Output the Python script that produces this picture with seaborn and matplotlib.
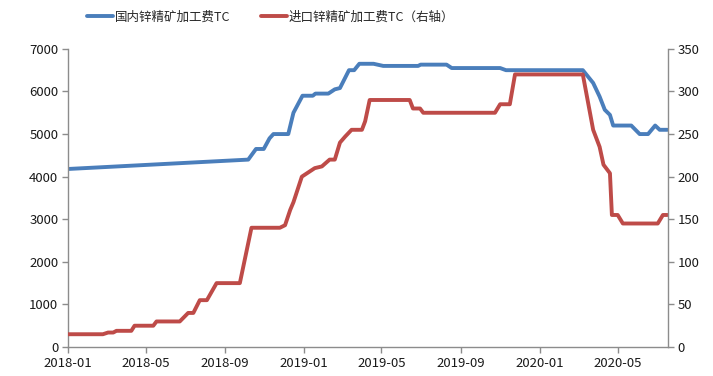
import matplotlib
matplotlib.use("Agg")
import matplotlib.pyplot as plt
import matplotlib.dates as mdates
import pandas as pd
import seaborn as sns

# Domestic zinc concentrate treatment charge (left axis, yuan/t)
dom_dates = ["2018-01-01", "2018-10-07", "2018-10-19", "2018-10-31", "2018-11-09",
             "2018-11-15", "2018-12-08", "2018-12-16", "2018-12-30", "2019-01-15",
             "2019-01-19", "2019-02-08", "2019-02-18", "2019-02-26", "2019-03-12",
             "2019-03-20", "2019-03-28", "2019-04-19", "2019-05-04", "2019-06-27",
             "2019-07-01", "2019-08-10", "2019-08-18", "2019-11-01", "2019-11-10",
             "2020-03-08", "2020-03-24", "2020-04-03", "2020-04-11", "2020-04-19",
             "2020-04-24", "2020-05-22", "2020-06-04", "2020-06-17", "2020-06-28",
             "2020-07-05", "2020-07-17"]
dom_values = [4180, 4400, 4650, 4650, 4900,
              5000, 5000, 5500, 5900, 5900,
              5950, 5950, 6050, 6080, 6500,
              6500, 6650, 6650, 6600, 6600,
              6630, 6630, 6550, 6550, 6500,
              6500, 6200, 5880, 5570, 5450,
              5200, 5200, 5000, 5000, 5200,
              5100, 5100]

# Imported zinc concentrate treatment charge (right axis, USD/t)
imp_dates = ["2018-01-01", "2018-02-24", "2018-03-04", "2018-03-12", "2018-03-17",
             "2018-04-09", "2018-04-14", "2018-05-13", "2018-05-18", "2018-06-23",
             "2018-07-06", "2018-07-14", "2018-07-24", "2018-08-04", "2018-08-19",
             "2018-09-24", "2018-10-12", "2018-11-25", "2018-12-03", "2018-12-11",
             "2018-12-16", "2018-12-29", "2019-01-08", "2019-01-18", "2019-01-29",
             "2019-02-10", "2019-02-18", "2019-02-26", "2019-03-06", "2019-03-16",
             "2019-04-01", "2019-04-06", "2019-04-13", "2019-06-14", "2019-06-19",
             "2019-06-30", "2019-07-05", "2019-10-24", "2019-11-01", "2019-11-16",
             "2019-11-24", "2020-03-08", "2020-03-24", "2020-04-03", "2020-04-09",
             "2020-04-19", "2020-04-22", "2020-05-01", "2020-05-09", "2020-07-02",
             "2020-07-10", "2020-07-17"]
imp_values = [15, 15, 17, 17, 19,
              19, 25, 25, 30, 30,
              40, 40, 55, 55, 75,
              75, 140, 140, 143, 161,
              170, 200, 205, 210, 212,
              220, 220, 240, 247, 255,
              255, 265, 290, 290, 280,
              280, 275, 275, 285, 285,
              320, 320, 255, 235, 214,
              204, 155, 155, 145, 145,
              155, 155]

dom_label = "国内锌精矿加工费TC"
imp_label = "进口锌精矿加工费TC（右轴）"
x_ticks = ["2018-01", "2018-05", "2018-09", "2019-01", "2019-05",
           "2019-09", "2020-01", "2020-05"]
left_ticks = [0, 1000, 2000, 3000, 4000, 5000, 6000, 7000]
right_ticks = [0, 50, 100, 150, 200, 250, 300, 350]

sns.set_style("white")
plt.rcParams["font.family"] = ["Noto Sans CJK SC", "DejaVu Sans"]

dom = pd.DataFrame({"date": pd.to_datetime(dom_dates), "value": dom_values})
imp = pd.DataFrame({"date": pd.to_datetime(imp_dates), "value": imp_values})

blue = "#4a7ebb"
red = "#be4b48"
axis_grey = "#8c8c8c"

fig = plt.figure(figsize=(7.13, 3.76), dpi=100)
ax = fig.add_axes([0.0954, 0.0771, 0.8416, 0.7929])
ax2 = ax.twinx()

sns.lineplot(data=dom, x="date", y="value", ax=ax, color=blue, linewidth=2.8,
             label=dom_label, legend=False)
sns.lineplot(data=imp, x="date", y="value", ax=ax2, color=red, linewidth=2.8,
             label=imp_label, legend=False)

ax.set_xlim(pd.Timestamp("2018-01-01"), pd.Timestamp("2020-07-18"))
ax.set_ylim(0, 7000)
ax2.set_ylim(0, 350)
ax.set_xticks(pd.to_datetime([t + "-01" for t in x_ticks]))
ax.xaxis.set_major_formatter(mdates.DateFormatter("%Y-%m"))
ax.set_yticks(left_ticks)
ax2.set_yticks(right_ticks)

for a in (ax, ax2):
    a.set_xlabel("")
    a.set_ylabel("")
    a.spines["top"].set_visible(False)
    for s in ("left", "right", "bottom"):
        a.spines[s].set_color(axis_grey)
        a.spines[s].set_linewidth(1.0)
    a.tick_params(axis="both", direction="out", length=4, width=1.0,
                  color=axis_grey, labelsize=9.5, labelcolor="#1a1a1a")
ax.spines["right"].set_visible(False)
ax2.spines["left"].set_visible(False)
ax2.spines["bottom"].set_visible(False)
ax.tick_params(axis="y", left=True, pad=3)
ax.tick_params(axis="x", bottom=True, pad=3)
ax2.tick_params(axis="y", right=True, pad=3)

h1, l1 = ax.get_legend_handles_labels()
h2, l2 = ax2.get_legend_handles_labels()
fig.legend(h1 + h2, l1 + l2, loc="center left", bbox_to_anchor=(0.115, 0.955),
           ncol=2, frameon=False, fontsize=9, handlelength=2.1,
           handletextpad=0.15, columnspacing=2.4, borderaxespad=0)

fig.savefig("out.png", dpi=100)
